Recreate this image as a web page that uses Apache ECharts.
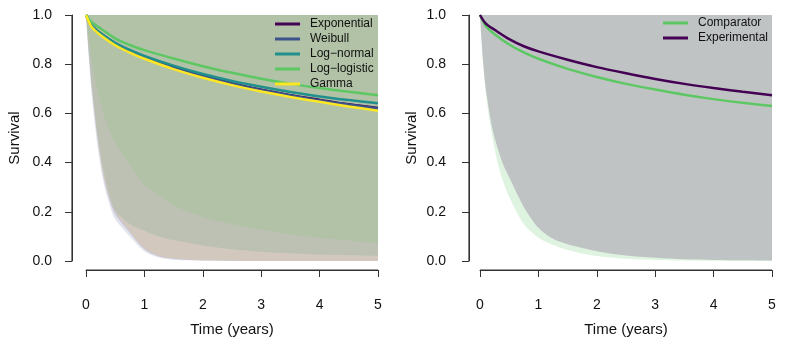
<!DOCTYPE html>
<html>
<head>
<meta charset="utf-8">
<script src="https://cdn.jsdelivr.net/npm/echarts@6/dist/echarts.min.js"></script>
<style>
html,body{margin:0;padding:0;background:#fff;}
#chart{width:789px;height:345px;}
</style>
</head>
<body>
<div id="chart"></div>
<script>
// ---- data ----
const xTicks = [0, 1, 2, 3, 4, 5];
const yTicks = [0.0, 0.2, 0.4, 0.6, 0.8, 1.0];
const timeCurve = [0, 0.1, 0.25, 0.5, 0.75, 1, 1.5, 2, 2.5, 3, 3.5, 4, 4.5, 5];
const timeBand = [0, 0.05, 0.1, 0.2, 0.3, 0.4, 0.5, 0.75, 1, 1.25, 1.5, 2, 2.5, 3, 3.5, 4, 4.5, 5];

const leftNames = ['Exponential', 'Weibull', 'Log\u2212normal', 'Log\u2212logistic', 'Gamma'];
const expMed = [1, 0.955, 0.925, 0.885, 0.855, 0.830, 0.788, 0.752, 0.722, 0.696, 0.674, 0.655, 0.637, 0.622];
const weiMed = [1, 0.955, 0.924, 0.884, 0.854, 0.829, 0.787, 0.751, 0.721, 0.695, 0.673, 0.653, 0.636, 0.620];
const lnMed  = [1, 0.956, 0.926, 0.887, 0.858, 0.834, 0.794, 0.760, 0.732, 0.708, 0.687, 0.669, 0.654, 0.641];
const llMed  = [1, 0.970, 0.945, 0.905, 0.878, 0.857, 0.823, 0.792, 0.765, 0.741, 0.720, 0.703, 0.688, 0.674];
const gamMed = [1, 0.950, 0.918, 0.877, 0.847, 0.822, 0.780, 0.745, 0.715, 0.689, 0.667, 0.647, 0.628, 0.611];

const expLow = [1, 0.84, 0.70, 0.49, 0.34, 0.25, 0.19, 0.115, 0.048, 0.018, 0.008, 0.002, 0.0005, 0, 0, 0, 0, 0];
const weiLow = [1, 0.82, 0.67, 0.46, 0.32, 0.23, 0.17, 0.100, 0.040, 0.014, 0.005, 0.001, 0, 0, 0, 0, 0, 0];
const lnLow  = [1, 0.84, 0.71, 0.51, 0.37, 0.27, 0.205, 0.150, 0.123, 0.100, 0.085, 0.063, 0.048, 0.038, 0.031, 0.026, 0.023, 0.020];
const llLow  = [1, 0.90, 0.82, 0.69, 0.60, 0.53, 0.48, 0.39, 0.31, 0.27, 0.225, 0.18, 0.15, 0.127, 0.108, 0.095, 0.083, 0.072];
const gamLow = [1, 0.85, 0.71, 0.50, 0.35, 0.26, 0.20, 0.120, 0.052, 0.021, 0.010, 0.003, 0.001, 0, 0, 0, 0, 0];

const rightNames = ['Comparator', 'Experimental'];
const compMed = [1, 0.955, 0.922, 0.880, 0.848, 0.822, 0.781, 0.748, 0.720, 0.697, 0.676, 0.658, 0.643, 0.630];
const exptMed = [1, 0.965, 0.940, 0.902, 0.873, 0.852, 0.818, 0.788, 0.763, 0.740, 0.720, 0.703, 0.688, 0.674];
const compLow = [1, 0.81, 0.68, 0.52, 0.40, 0.32, 0.26, 0.150, 0.095, 0.065, 0.045, 0.020, 0.009, 0.004, 0.002, 0.001, 0, 0];
const exptLow = [1, 0.82, 0.70, 0.55, 0.46, 0.39, 0.34, 0.22, 0.135, 0.090, 0.068, 0.040, 0.022, 0.013, 0.007, 0.004, 0.003, 0.002];

// ---- styling ----
const FONT = '"Liberation Sans", Arial, Helvetica, sans-serif';
const AXIS_COLOR = '#333';
const leftColors = ['#440154', '#3B528B', '#21908C', '#5DC863', '#FDE725'];
const rightColors = ['#5DC863', '#440154'];
const yOffsets = [14, 11];
const xOffset = 9;
function rgba(hex, a) {
  const n = parseInt(hex.slice(1), 16);
  return 'rgba(' + ((n >> 16) & 255) + ',' + ((n >> 8) & 255) + ',' + (n & 255) + ',' + a + ')';
}
function pairs(xs, ys) { return xs.map((x, i) => [x, ys[i]]); }

function bandSeries(idx, low, color, alpha) {
  return {
    type: 'line', xAxisIndex: idx, yAxisIndex: idx, silent: true,
    data: pairs(timeBand, low), symbol: 'none', showSymbol: false,
    smooth: 0.3,
    lineStyle: { width: 0, opacity: 0 },
    itemStyle: { color: color },
    areaStyle: { origin: 'end', color: rgba(color, alpha), opacity: 1 },
    z: 1
  };
}
function lineSeries(idx, name, med, color) {
  return {
    type: 'line', name: name, xAxisIndex: idx, yAxisIndex: idx,
    data: pairs(timeCurve, med), symbol: 'none', showSymbol: false,
    smooth: 0.3,
    lineStyle: { width: 2.5, color: color },
    itemStyle: { color: color },
    z: 3
  };
}

function xAxisDef(idx, off) {
  return {
    type: 'value', gridIndex: idx, min: 0, max: 5, interval: 1, offset: off,
    name: 'Time (years)', nameLocation: 'middle', nameGap: 52,
    nameTextStyle: { fontFamily: FONT, fontSize: 15, color: '#111' },
    axisLine: { show: true, onZero: false, lineStyle: { color: '#333333', width: 1, opacity: 1, type: 'solid' } },
    axisTick: { show: true, inside: false, length: 7, lineStyle: { color: '#333333', width: 1 } },
    axisLabel: { fontFamily: FONT, fontSize: 14, color: '#111', margin: 28,
      formatter: v => String(v) },
    splitLine: { show: false }
  };
}
function yAxisDef(idx, off, margin) {
  return {
    type: 'value', gridIndex: idx, min: 0, max: 1, interval: 0.2, offset: off,
    name: 'Survival', nameLocation: 'middle', nameGap: 50, nameRotate: 90,
    nameTextStyle: { fontFamily: FONT, fontSize: 15, color: '#111' },
    axisLine: { show: true, onZero: false, lineStyle: { color: '#333333', width: 1, opacity: 1, type: 'solid' } },
    axisTick: { show: true, inside: false, length: 7, lineStyle: { color: '#333333', width: 1 } },
    axisLabel: { fontFamily: FONT, fontSize: 14, color: '#111', margin: margin,
      formatter: v => v.toFixed(1) },
    splitLine: { show: false }
  };
}

const leftLows = [expLow, weiLow, lnLow, llLow, gamLow];
const leftMeds = [expMed, weiMed, lnMed, llMed, gamMed];
const rightLows = [compLow, exptLow];
const rightMeds = [compMed, exptMed];

const series = [];
leftLows.forEach((l, i) => series.push(bandSeries(0, l, leftColors[i], 0.15)));
leftMeds.forEach((m, i) => series.push(lineSeries(0, leftNames[i], m, leftColors[i])));
rightLows.forEach((l, i) => series.push(bandSeries(1, l, rightColors[i], 0.2)));
rightMeds.forEach((m, i) => series.push(lineSeries(1, rightNames[i], m, rightColors[i])));

function legendDef(names, left, top) {
  return {
    orient: 'vertical', left: left, top: top, icon: 'rect',
    itemWidth: 25, itemHeight: 3, itemGap: 1, padding: 0,
    selectedMode: false,
    textStyle: { fontFamily: FONT, fontSize: 12, color: '#111', lineHeight: 14, padding: [0, 0, 0, 5] },
    data: names
  };
}

const option = {
  animation: false,
  backgroundColor: '#fff',
  grid: [
    { left: 86, top: 15, width: 292, height: 246 },
    { left: 480, top: 15, width: 292, height: 246 }
  ],
  xAxis: [xAxisDef(0, xOffset), xAxisDef(1, xOffset)],
  yAxis: [yAxisDef(0, yOffsets[0], 20), yAxisDef(1, yOffsets[1], 23)],
  legend: [legendDef(leftNames, 275, 17), legendDef(rightNames, 663, 16)],
  series: series
};

const chart = echarts.init(document.getElementById('chart'), null, { renderer: 'canvas' });
chart.setOption(option);

// R-style detached axis lines drawn a second time as graphics, positioned from the axes' scales
const elements = [];
[0, 1].forEach(g => {
  const pMin = chart.convertToPixel({ gridIndex: g }, [xTicks[0], yTicks[0]]);
  const pMax = chart.convertToPixel({ gridIndex: g }, [xTicks[xTicks.length - 1], yTicks[yTicks.length - 1]]);
  const yx = Math.round(pMin[0] - yOffsets[g]);
  const xy = Math.round(pMin[1] + xOffset);
  elements.push({ type: 'rect', silent: true, z: 100, zlevel: 1,
    shape: { x: yx - 0.6, y: pMax[1], width: 1.2, height: pMin[1] - pMax[1] },
    style: { fill: AXIS_COLOR } });
  elements.push({ type: 'rect', silent: true, z: 100, zlevel: 1,
    shape: { x: pMin[0], y: xy - 0.6, width: pMax[0] - pMin[0], height: 1.2 },
    style: { fill: AXIS_COLOR } });
});
chart.setOption({ graphic: { elements: elements } });
</script>
</body>
</html>
